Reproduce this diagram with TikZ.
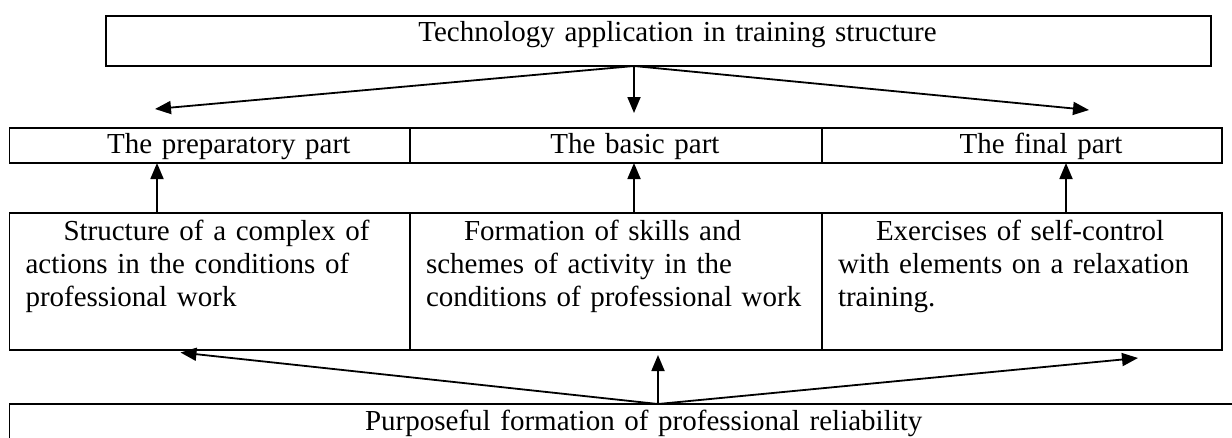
\documentclass[tikz,border=0pt]{standalone}
\usepackage{fontspec}
\setmainfont{Liberation Serif}
\usepackage{tikz}
\usetikzlibrary{positioning, arrows.meta}
\tikzset{x=1pt, y=1pt, >={Triangle[length=16pt, width=13pt]},
	every node/.style={font=\fontsize{29}{33}\selectfont, inner sep=0pt, outer sep=0pt},
	part/.style={draw, line width=1.7pt, anchor=north west, align=center, text height=25pt, text depth=10pt},
	cell/.style={draw, line width=1.7pt, anchor=north west, align=left, inner xsep=16pt, text height=27pt, text depth=110pt},
	link/.style={->, line width=1.8pt}}
\newcommand{\ind}{\hspace*{38pt}}

\begin{document}
\begin{tikzpicture}
	\useasboundingbox (0,0) rectangle (1232,-437);
	\clip (0,0) rectangle (1232,-437);

	\node[part, text width=1105pt, text depth=25pt] (Technology) at (106,-16) {\ind Technology application in training structure};

	\node[part, text width=400.5pt] (Preparatory) at (9.5,-128) {\ind The preparatory part};
	\node[part, text width=412pt, right=0pt of Preparatory] (Basic) {\ind The basic part};
	\node[part, text width=400pt, right=0pt of Basic] (Final) {\ind The final part};

	\node[cell, text width=368.5pt] (Structure) at (9.5,-213) {\ind Structure of a complex of\\actions in the conditions of\\professional work};
	\node[cell, text width=380pt, anchor=north west] (Formation) at (Structure.north east) {\ind Formation of skills and\\schemes of activity in the\\conditions of professional work};
	\node[cell, text width=368pt, anchor=north west] (Exercises) at (Formation.north east) {\ind Exercises of self-control\\with elements on a relaxation\\training.};

	\node[part, text width=1230.5pt, text height=26pt, text depth=40pt] (Purposeful) at (9.5,-404) {\ind Purposeful formation of professional reliability};

	% split from the top box
	\coordinate (Split) at (634,0);
	\coordinate (To Preparatory) at (155,-109);
	\coordinate (To Basic) at (634,-113);
	\coordinate (To Final) at (1089,-110);
	\draw	(Split |- Technology.south) edge[link] (To Preparatory)
			(Split |- Technology.south) edge[link] (To Basic)
			(Split |- Technology.south) edge[link] (To Final);

	% contents up to the parts
	\coordinate (Up1) at (157,0);
	\coordinate (Up2) at (634,0);
	\coordinate (Up3) at (1066,0);
	\draw	(Up1 |- Structure.north) edge[link] (Up1 |- Preparatory.south)
			(Up2 |- Formation.north) edge[link] (Up2 |- Basic.south)
			(Up3 |- Exercises.north) edge[link] (Up3 |- Final.south);

	% merge from the bottom box
	\coordinate (Merge) at (658,0);
	\coordinate (To Structure) at (180.5,-352.5);
	\coordinate (To Formation) at (658,-355);
	\coordinate (To Exercises) at (1138,-358);
	\draw	(Merge |- Purposeful.north) edge[link] (To Structure)
			(Merge |- Purposeful.north) edge[link] (To Formation)
			(Merge |- Purposeful.north) edge[link] (To Exercises);
\end{tikzpicture}
\end{document}
